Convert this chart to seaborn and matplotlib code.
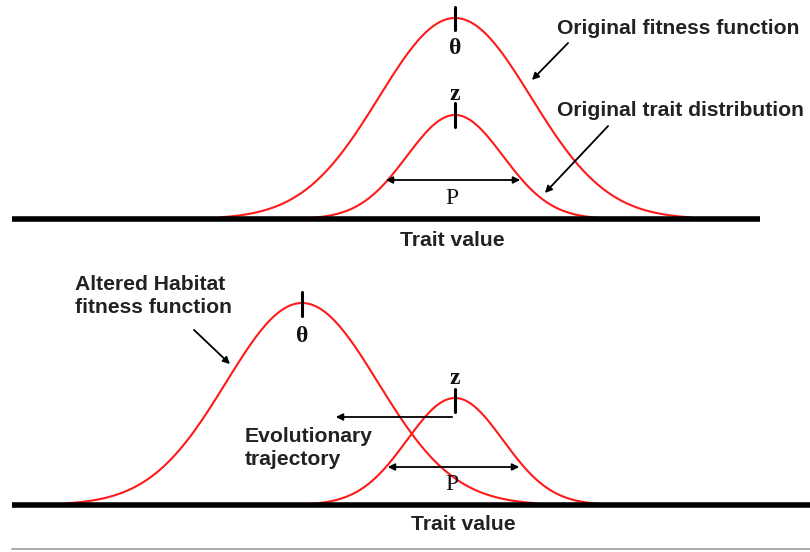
import matplotlib.pyplot as plt
import numpy as np
import pandas as pd
import seaborn as sns

# =========================
# DATA (schematic, pixel-like units: x = trait value, y = down from top)
# =========================
panels = ["original", "altered"]
baselines = [219, 505]
fitness_centers = [455, 302]
fitness_heights = [201, 202]
fitness_sd = 76
trait_centers = [455, 455]
trait_heights = [104, 107]
trait_sd = 48

SANS = ["Liberation Sans", "DejaVu Sans"]
SERIF = ["Liberation Serif", "DejaVu Serif"]


def bell(center, sd, height, base, name):
    x = np.linspace(center - 3.1 * sd, center + 3.1 * sd, 300)
    y = base - height * np.exp(-0.5 * ((x - center) / sd) ** 2)
    return pd.DataFrame({"x": x, "y": y, "curve": name})


rows = []
for i, p in enumerate(panels):
    rows.append(bell(fitness_centers[i], fitness_sd, fitness_heights[i], baselines[i], p + "_fit"))
    rows.append(bell(trait_centers[i], trait_sd, trait_heights[i], baselines[i], p + "_trait"))
curves = pd.concat(rows, ignore_index=True)

sns.set_style("white")
fig = plt.figure(figsize=(8.1, 5.52), dpi=100)
ax = fig.add_axes([0, 0, 1, 1])

sns.lineplot(data=curves, x="x", y="y", units="curve", estimator=None,
             color="#ff1a1a", lw=1.5, sort=False, ax=ax, legend=False)
ax.set_xlim(0, 810)
ax.set_ylim(552, 0)
ax.axis("off")

# baselines
ax.plot([12, 760], [baselines[0], baselines[0]], color="black", lw=4, solid_capstyle="butt")
ax.plot([12, 810], [baselines[1], baselines[1]], color="black", lw=4, solid_capstyle="butt")
ax.plot([12, 810], [549, 549], color="#999999", lw=1.2)

txt = dict(family=SANS, fontsize=15.2, color="#222222", fontweight="bold")
ser = dict(family=SERIF, fontsize=17, color="#111111", ha="center", va="center")
arr = dict(color="black", lw=1.3, mutation_scale=10)

# ---- top panel ----
fc, tc, b = fitness_centers[0], trait_centers[0], baselines[0]
ax.plot([fc, fc], [b - fitness_heights[0] - 11, b - fitness_heights[0] + 12], color="black", lw=2.2)
ax.plot([tc, tc], [b - trait_heights[0] - 12, b - trait_heights[0] + 12], color="black", lw=2.2)
ax.text(fc, 48, "θ", fontweight="bold", **ser)
ax.text(tc, 94, "z", fontweight="bold", **ser)
ax.text(452, 198, "P", **ser)
ax.annotate("", xy=(383, 180), xytext=(523, 180), arrowprops=dict(arrowstyle="<|-|>", **arr))
ax.text(557, 28, "Original fitness function", va="center", **txt)
ax.text(557, 110, "Original trait distribution", va="center", **txt)
ax.annotate("", xy=(530, 82), xytext=(570, 41), arrowprops=dict(arrowstyle="-|>", **arr))
ax.annotate("", xy=(543, 195), xytext=(610, 124), arrowprops=dict(arrowstyle="-|>", **arr))
ax.text(452, 241, "Trait value", ha="center", va="center", **txt)

# ---- bottom panel ----
fc, tc, b = fitness_centers[1], trait_centers[1], baselines[1]
ax.plot([fc, fc], [b - fitness_heights[1] - 11, b - fitness_heights[1] + 13], color="black", lw=2.2)
ax.plot([tc, tc], [b - trait_heights[1] - 9, b - trait_heights[1] + 14], color="black", lw=2.2)
ax.text(fc, 337, "θ", fontweight="bold", **ser)
ax.text(tc, 378, "z", fontweight="bold", **ser)
ax.text(452, 484, "P", **ser)
ax.annotate("", xy=(333, 417), xytext=(455, 417), arrowprops=dict(arrowstyle="-|>", **arr))
ax.annotate("", xy=(385, 467), xytext=(522, 467), arrowprops=dict(arrowstyle="<|-|>", **arr))
ax.text(245, 448, "Evolutionary\ntrajectory", va="center", linespacing=1.25, **txt)
ax.text(75, 296, "Altered Habitat\nfitness function", va="center", linespacing=1.25, **txt)
ax.annotate("", xy=(232, 366), xytext=(192, 328), arrowprops=dict(arrowstyle="-|>", **arr))
ax.text(463, 524, "Trait value", ha="center", va="center", **txt)

fig.savefig("out.png", dpi=100)
plt.close(fig)
